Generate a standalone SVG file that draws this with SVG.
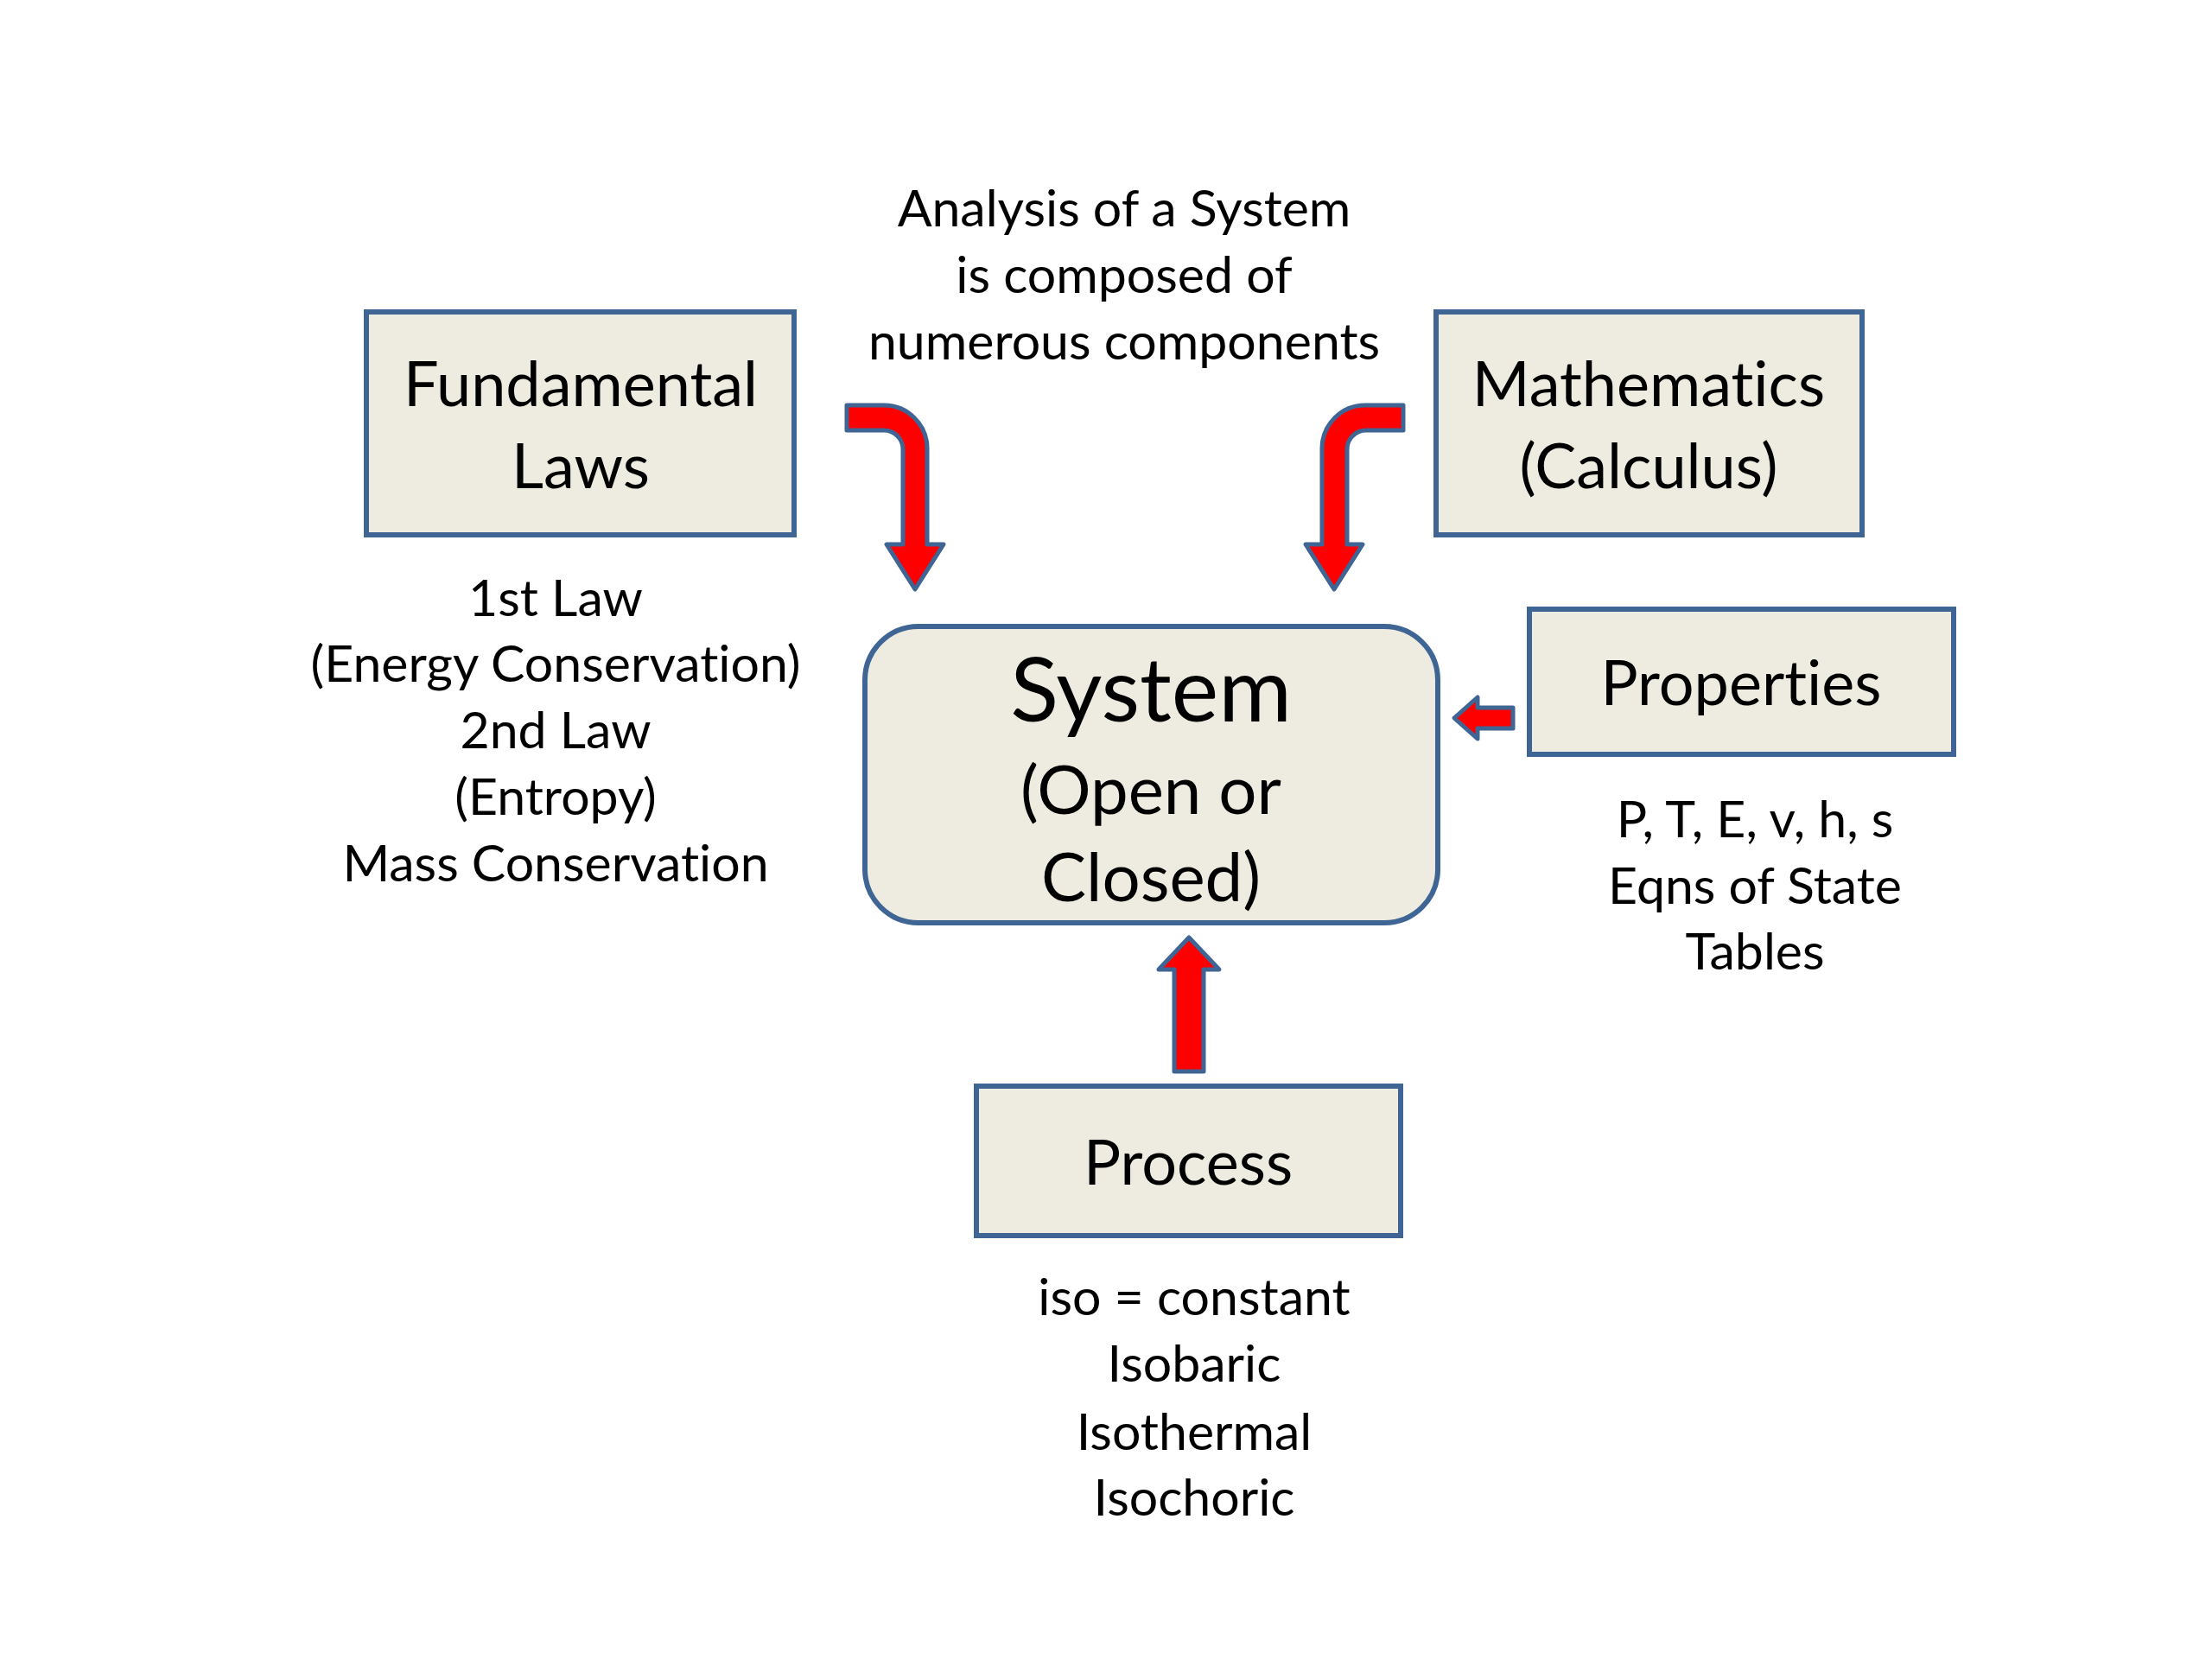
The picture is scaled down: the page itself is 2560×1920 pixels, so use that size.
<svg xmlns="http://www.w3.org/2000/svg" width="2560" height="1920" viewBox="0 0 2560 1920">
<style>
.box{fill:#EEECE1;stroke:#3E6594;stroke-width:6}
.arr{fill:#FF0000;stroke:#3E6594;stroke-width:5;stroke-linejoin:round}
text{font-family:Lato,"Open Sans",sans-serif;fill:#000;text-anchor:middle;font-variant-ligatures:none;font-feature-settings:"liga" 0,"clig" 0}
.note{font-size:59px}
.lbl{font-size:72px}
</style>
<rect width="2560" height="1920" fill="#FFFFFF"/>
<g id="title">
<text class="note" x="1301" y="262">Analysis of a System</text>
<text class="note" x="1301" y="339">is composed of</text>
<text class="note" x="1301" y="416">numerous components</text>
</g>
<g id="fundamental">
<rect class="box" x="424" y="361" width="495" height="258"/>
<text class="lbl" x="672" y="470">Fundamental</text>
<text class="lbl" x="672" y="565">Laws</text>
</g>
<g id="fundamental-notes">
<text class="note" x="643" y="713">1st Law</text>
<text class="note" x="643" y="789">(Energy Conservation)</text>
<text class="note" x="643" y="866">2nd Law</text>
<text class="note" x="643" y="943">(Entropy)</text>
<text class="note" x="643" y="1020">Mass Conservation</text>
</g>
<g id="mathematics">
<rect class="box" x="1662" y="361" width="493" height="258"/>
<text class="lbl" x="1908" y="470">Mathematics</text>
<text class="lbl" x="1908" y="565">(Calculus)</text>
</g>
<g id="system">
<rect class="box" x="1001" y="725" width="663" height="343" rx="62" ry="62"/>
<text x="1332" y="835" font-size="103">System</text>
<text x="1332" y="942" font-size="78">(Open or</text>
<text x="1332" y="1043" font-size="78">Closed)</text>
</g>
<g id="properties">
<rect class="box" x="1770" y="705" width="491" height="168"/>
<text class="lbl" x="2015" y="816">Properties</text>
</g>
<g id="properties-notes">
<text class="note" x="2031" y="969">P, T, E, v, h, s</text>
<text class="note" x="2031" y="1046">Eqns of State</text>
<text class="note" x="2031" y="1122">Tables</text>
</g>
<g id="process">
<rect class="box" x="1130" y="1257" width="491" height="173"/>
<text class="lbl" x="1375" y="1371">Process</text>
</g>
<g id="process-notes">
<text class="note" x="1382" y="1522">iso = constant</text>
<text class="note" x="1382" y="1599">Isobaric</text>
<text class="note" x="1382" y="1678">Isothermal</text>
<text class="note" x="1382" y="1754">Isochoric</text>
</g>
<g id="connectors">
<path class="arr" d="M980 469 H1023 A50 50 0 0 1 1073 519 V630 H1092 L1059 682 L1026 630 H1045 V520 A22 22 0 0 0 1023 498 H980 Z"/>
<path class="arr" d="M1624 469 H1580 A50 50 0 0 0 1530 519 V630 H1511 L1544 682 L1577 630 H1559 V520 A22 22 0 0 1 1581 498 H1624 Z"/>
<path class="arr" d="M1683 831 L1710 807 V819 H1751 V843 H1710 V855 Z"/>
<path class="arr" d="M1376 1085 L1411 1122 H1393 V1240 H1359 V1122 H1341 Z"/>
</g>
</svg>
